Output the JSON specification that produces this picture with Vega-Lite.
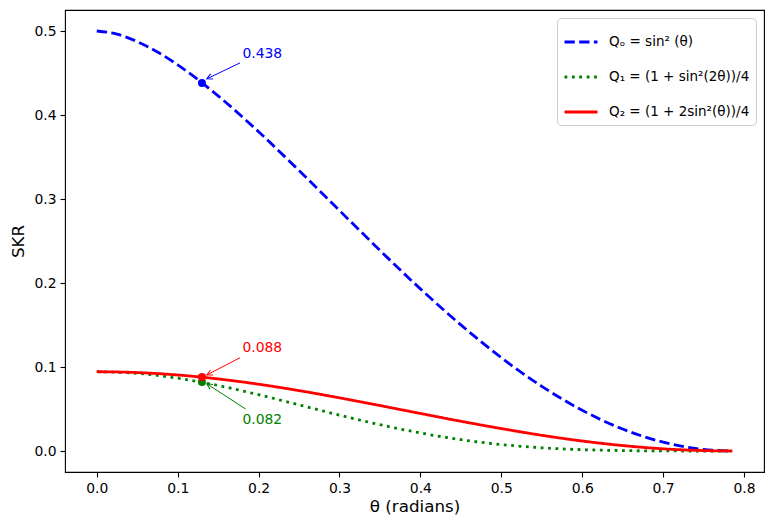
{
  "$schema": "https://vega.github.io/schema/vega-lite/v6.json",
  "width": 699,
  "height": 462,
  "autosize": {"type": "none"},
  "padding": {"left": 65, "top": 10, "right": 8, "bottom": 59},
  "background": "white",
  "config": {
    "font": "DejaVu Sans",
    "view": {"stroke": "black", "strokeWidth": 1.1},
    "axis": {
      "grid": false, "domain": false, "tickColor": "black", "tickSize": 5, "tickWidth": 1.1,
      "labelColor": "black", "labelFontSize": 13.9, "labelPadding": 4, "labelFont": "DejaVu Sans",
      "titleFontSize": 16.7, "titleFontWeight": "normal", "titleColor": "black", "titleFont": "DejaVu Sans"
    },
    "legend": {
      "orient": "top-right", "offset": 8, "padding": 6, "fillColor": "white", "strokeColor": "#cccccc",
      "cornerRadius": 4, "symbolType": "stroke", "symbolSize": 1089, "symbolStrokeWidth": 2.8,
      "labelFontSize": 13.5, "labelColor": "black", "rowPadding": 10, "labelOffset": 10, "labelLimit": 300
    }
  },
  "datasets": {
    "curves": [
      {"theta": 0, "SKR": 0.5, "series": "Q0"},
      {"theta": 0.025, "SKR": 0.4962, "series": "Q0"},
      {"theta": 0.05, "SKR": 0.4874, "series": "Q0"},
      {"theta": 0.075, "SKR": 0.4750, "series": "Q0"},
      {"theta": 0.1, "SKR": 0.4597, "series": "Q0"},
      {"theta": 0.15, "SKR": 0.4228, "series": "Q0"},
      {"theta": 0.2, "SKR": 0.3801, "series": "Q0"},
      {"theta": 0.25, "SKR": 0.3339, "series": "Q0"},
      {"theta": 0.3, "SKR": 0.2863, "series": "Q0"},
      {"theta": 0.35, "SKR": 0.2388, "series": "Q0"},
      {"theta": 0.4, "SKR": 0.1930, "series": "Q0"},
      {"theta": 0.45, "SKR": 0.1501, "series": "Q0"},
      {"theta": 0.5, "SKR": 0.1111, "series": "Q0"},
      {"theta": 0.55, "SKR": 0.0770, "series": "Q0"},
      {"theta": 0.6, "SKR": 0.0484, "series": "Q0"},
      {"theta": 0.65, "SKR": 0.0261, "series": "Q0"},
      {"theta": 0.7, "SKR": 0.0105, "series": "Q0"},
      {"theta": 0.75, "SKR": 0.0018, "series": "Q0"},
      {"theta": 0.7854, "SKR": 0, "series": "Q0"},
      {"theta": 0, "SKR": 0.0944, "series": "Q1"},
      {"theta": 0.05, "SKR": 0.0924, "series": "Q1"},
      {"theta": 0.1, "SKR": 0.0867, "series": "Q1"},
      {"theta": 0.15, "SKR": 0.0780, "series": "Q1"},
      {"theta": 0.2, "SKR": 0.0670, "series": "Q1"},
      {"theta": 0.25, "SKR": 0.0549, "series": "Q1"},
      {"theta": 0.3, "SKR": 0.0427, "series": "Q1"},
      {"theta": 0.35, "SKR": 0.0313, "series": "Q1"},
      {"theta": 0.4, "SKR": 0.0215, "series": "Q1"},
      {"theta": 0.45, "SKR": 0.0135, "series": "Q1"},
      {"theta": 0.5, "SKR": 0.0077, "series": "Q1"},
      {"theta": 0.55, "SKR": 0.0038, "series": "Q1"},
      {"theta": 0.6, "SKR": 0.0016, "series": "Q1"},
      {"theta": 0.65, "SKR": 0.0005, "series": "Q1"},
      {"theta": 0.7, "SKR": 0.0001, "series": "Q1"},
      {"theta": 0.75, "SKR": 0.0000, "series": "Q1"},
      {"theta": 0.7854, "SKR": 0, "series": "Q1"},
      {"theta": 0, "SKR": 0.0944, "series": "Q2"},
      {"theta": 0.05, "SKR": 0.0934, "series": "Q2"},
      {"theta": 0.1, "SKR": 0.0905, "series": "Q2"},
      {"theta": 0.15, "SKR": 0.0858, "series": "Q2"},
      {"theta": 0.2, "SKR": 0.0795, "series": "Q2"},
      {"theta": 0.25, "SKR": 0.0719, "series": "Q2"},
      {"theta": 0.3, "SKR": 0.0633, "series": "Q2"},
      {"theta": 0.35, "SKR": 0.0541, "series": "Q2"},
      {"theta": 0.4, "SKR": 0.0447, "series": "Q2"},
      {"theta": 0.45, "SKR": 0.0354, "series": "Q2"},
      {"theta": 0.5, "SKR": 0.0267, "series": "Q2"},
      {"theta": 0.55, "SKR": 0.0187, "series": "Q2"},
      {"theta": 0.6, "SKR": 0.0119, "series": "Q2"},
      {"theta": 0.65, "SKR": 0.0065, "series": "Q2"},
      {"theta": 0.7, "SKR": 0.0026, "series": "Q2"},
      {"theta": 0.75, "SKR": 0.0005, "series": "Q2"},
      {"theta": 0.7854, "SKR": 0, "series": "Q2"}
    ],
    "ann": [
      {"series": "Q0", "theta": 0.13, "SKR": 0.438, "label": "0.438", "tx": 0.18, "ty": 0.468, "ax": 0.177, "ay": 0.462, "ex": 0.136, "ey": 0.443},
      {"series": "Q1", "theta": 0.13, "SKR": 0.082, "label": "0.082", "tx": 0.18, "ty": 0.032, "ax": 0.184, "ay": 0.050, "ex": 0.136, "ey": 0.080},
      {"series": "Q2", "theta": 0.13, "SKR": 0.088, "label": "0.088", "tx": 0.18, "ty": 0.118, "ax": 0.177, "ay": 0.111, "ex": 0.136, "ey": 0.0905}
    ]
  },
  "layer": [
    {
      "data": {"name": "curves"},
      "mark": {"type": "line", "strokeWidth": 2.8, "interpolate": "monotone"},
      "encoding": {
        "x": {"field": "theta", "type": "quantitative", "title": "θ (radians)",
              "scale": {"domain": [-0.03927, 0.82467], "nice": false, "zero": false},
              "axis": {"values": [0, 0.1, 0.2, 0.3, 0.4, 0.5, 0.6, 0.7, 0.8], "format": ".1f", "titlePadding": 4}},
        "y": {"field": "SKR", "type": "quantitative", "title": "SKR",
              "scale": {"domain": [-0.025, 0.525], "nice": false, "zero": false},
              "axis": {"values": [0, 0.1, 0.2, 0.3, 0.4, 0.5], "format": ".1f", "titlePadding": 6}},
        "color": {"field": "series", "type": "nominal",
                  "scale": {"domain": ["Q0", "Q1", "Q2"], "range": ["#0000ff", "#008000", "#ff0000"]},
                  "legend": {"title": null, "labelExpr": "datum.label === 'Q0' ? 'Qₒ = sin² (θ)' : datum.label === 'Q1' ? 'Q₁ = (1 + sin²(2θ))/4' : 'Q₂ = (1 + 2sin²(θ))/4'"}},
        "strokeDash": {"field": "series", "type": "nominal",
                  "scale": {"domain": ["Q0", "Q1", "Q2"], "range": [[10.3, 4.4], [2.8, 4.6], [1, 0]]},
                  "legend": {"title": null, "labelExpr": "datum.label === 'Q0' ? 'Qₒ = sin² (θ)' : datum.label === 'Q1' ? 'Q₁ = (1 + sin²(2θ))/4' : 'Q₂ = (1 + 2sin²(θ))/4'"}}
      }
    },
    {
      "data": {"name": "ann"},
      "layer": [
        {
          "mark": {"type": "rule", "strokeWidth": 1},
          "encoding": {
            "x": {"field": "ax", "type": "quantitative", "title": "θ (radians)"},
            "y": {"field": "ay", "type": "quantitative", "title": "SKR"},
            "x2": {"field": "ex"},
            "y2": {"field": "ey"},
            "stroke": {"field": "series", "type": "nominal", "legend": null,
                      "scale": {"domain": ["Q0", "Q1", "Q2"], "range": ["#0000ff", "#008000", "#ff0000"]}}
          }
        },
        {
          "mark": {"type": "point", "filled": true, "size": 64, "opacity": 1, "strokeWidth": 0},
          "encoding": {
            "x": {"field": "theta", "type": "quantitative", "title": "θ (radians)"},
            "y": {"field": "SKR", "type": "quantitative", "title": "SKR"},
            "fill": {"field": "series", "type": "nominal", "legend": null,
                      "scale": {"domain": ["Q0", "Q1", "Q2"], "range": ["#0000ff", "#008000", "#ff0000"]}}
          }
        },
        {
          "mark": {"type": "text", "align": "left", "baseline": "alphabetic", "fontSize": 13.9},
          "encoding": {
            "x": {"field": "tx", "type": "quantitative", "title": "θ (radians)"},
            "y": {"field": "ty", "type": "quantitative", "title": "SKR"},
            "text": {"field": "label"},
            "fill": {"field": "series", "type": "nominal", "legend": null,
                      "scale": {"domain": ["Q0", "Q1", "Q2"], "range": ["#0000ff", "#008000", "#ff0000"]}}
          }
        },
        {
          "transform": [{"filter": "datum.series === 'Q0'"}],
          "mark": {"type": "point", "shape": "M-0.5,1L0,0L0.5,1", "filled": false, "size": 125, "strokeWidth": 1, "opacity": 1, "angle": 244},
          "encoding": {
            "x": {"field": "ex", "type": "quantitative", "title": "θ (radians)"},
            "y": {"field": "ey", "type": "quantitative", "title": "SKR"},
            "stroke": {"field": "series", "type": "nominal", "legend": null,
                      "scale": {"domain": ["Q0", "Q1", "Q2"], "range": ["#0000ff", "#008000", "#ff0000"]}}
          }
        },
        {
          "transform": [{"filter": "datum.series === 'Q2'"}],
          "mark": {"type": "point", "shape": "M-0.5,1L0,0L0.5,1", "filled": false, "size": 125, "strokeWidth": 1, "opacity": 1, "angle": 243},
          "encoding": {
            "x": {"field": "ex", "type": "quantitative", "title": "θ (radians)"},
            "y": {"field": "ey", "type": "quantitative", "title": "SKR"},
            "stroke": {"field": "series", "type": "nominal", "legend": null,
                      "scale": {"domain": ["Q0", "Q1", "Q2"], "range": ["#0000ff", "#008000", "#ff0000"]}}
          }
        },
        {
          "transform": [{"filter": "datum.series === 'Q1'"}],
          "mark": {"type": "point", "shape": "M-0.5,1L0,0L0.5,1", "filled": false, "size": 125, "strokeWidth": 1, "opacity": 1, "angle": 303},
          "encoding": {
            "x": {"field": "ex", "type": "quantitative", "title": "θ (radians)"},
            "y": {"field": "ey", "type": "quantitative", "title": "SKR"},
            "stroke": {"field": "series", "type": "nominal", "legend": null,
                      "scale": {"domain": ["Q0", "Q1", "Q2"], "range": ["#0000ff", "#008000", "#ff0000"]}}
          }
        }
      ]
    }
  ]
}
